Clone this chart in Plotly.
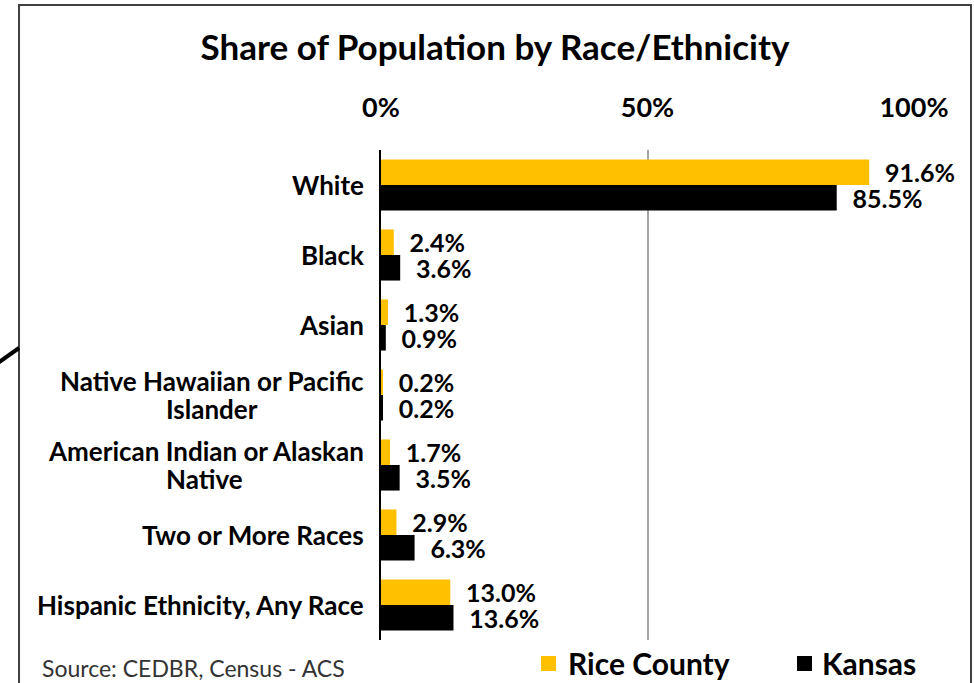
import plotly.graph_objects as go

categories = ["White", "Black", "Asian", "Native Hawaiian or Pacific<br>Islander",
              "American Indian or Alaskan<br>Native", "Two or More Races",
              "Hispanic Ethnicity, Any Race"]
rice_county = [91.6, 2.4, 1.3, 0.2, 1.7, 2.9, 13.0]
kansas = [85.5, 3.6, 0.9, 0.2, 3.5, 6.3, 13.6]
series_names = ["Rice County", "Kansas"]
tick_vals = [0, 50, 100]
tick_text = ["0%", "50%", "100%"]

FONT = "Lato"
GOLD = "#FFC000"
COLORS = [GOLD, "#000000"]

L, R, T, B = 381, 60, 150, 43
W, H = 974, 683
pw, ph = W - L - R, H - T - B
def px(x): return (x - L) / pw
def py(y): return (H - B - y) / ph

fig = go.Figure()
for name, vals, col in zip(series_names, [rice_county, kansas], COLORS):
    fig.add_trace(go.Bar(
        y=categories, x=vals, name=name, orientation="h",
        marker=dict(color=col, line=dict(width=0)),
        text=[f"\u00a0\u00a0<b>{v:.1f}%</b>" for v in vals], textposition="outside",
        textfont=dict(family=FONT, size=25, color="#000000"),
        constraintext="none", cliponaxis=False, showlegend=False,
    ))

# category labels (wrapped labels: lines 28px apart, centred under each other)
wrap_centre_px = {3: 212, 4: 204}
for k, c in enumerate(categories):
    lines = c.split("<br>")
    n = len(lines)
    for i, ln in enumerate(lines):
        shift = (n - 1) * 14 - i * 28
        if i == 0:
            anchor, xs = "right", -15
        else:
            anchor, xs = "center", wrap_centre_px[k] - L
        fig.add_annotation(x=0, xref="paper", y=c, yref="y", text=f"<b>{ln}</b>",
                           xanchor=anchor, xshift=xs, yshift=shift,
                           align="center", showarrow=False,
                           font=dict(family=FONT, size=26, color="#000000"))

fig.add_annotation(x=px(40), xref="paper", y=py(668), yref="paper", xanchor="left",
                   yanchor="middle", text="Source: CEDBR, Census - ACS", showarrow=False,
                   font=dict(family=FONT, size=23, color="#333333"))

# legend drawn manually
leg_x = [541, 797]
leg_text_x = [566, 820]
for name, col, sx, tx in zip(series_names, COLORS, leg_x, leg_text_x):
    fig.add_shape(type="rect", xref="paper", yref="paper", x0=px(sx), x1=px(sx + 15),
                  y0=py(671), y1=py(656), fillcolor=col, line=dict(width=0))
    fig.add_annotation(x=px(tx), xref="paper", y=py(663), yref="paper", xanchor="left",
                       yanchor="middle", text=f"<b>{name}</b>", showarrow=False,
                       font=dict(family=FONT, size=30, color="#000000"))

fig.add_shape(type="rect", xref="paper", yref="paper", x0=px(19), x1=px(971),
              y0=py(700), y1=py(5), line=dict(color="#404040", width=2))
fig.add_shape(type="line", xref="paper", yref="paper", x0=px(-2), y0=py(363),
              x1=px(19), y1=py(348), line=dict(color="#000000", width=4))

fig.update_layout(
    width=W, height=H, margin=dict(l=L, r=R, t=T, b=B, autoexpand=False),
    paper_bgcolor="white", plot_bgcolor="white",
    barmode="group", bargap=0.27, bargroupgap=0,
    title=dict(text="<b>Share of Population by Race/Ethnicity</b>", xref="container",
               x=495 / W, xanchor="center", yref="container",
               y=1 - 48 / H, yanchor="middle", font=dict(family=FONT, size=35, color="#000000")),
    font=dict(family=FONT, color="#000000"),
    showlegend=False,
)
fig.update_xaxes(side="top", range=[0, 100], tickvals=tick_vals,
                 ticktext=[f"<b>{t}</b>" for t in tick_text],
                 tickfont=dict(family=FONT, size=27, color="#000000"),
                 showgrid=True, gridcolor="#A6A6A6", gridwidth=2, zeroline=False,
                 ticks="", ticklabelstandoff=27, showline=False, fixedrange=True)
fig.update_yaxes(autorange="reversed", showticklabels=False, ticks="", showgrid=False,
                 showline=True, linecolor="#000000", linewidth=2, zeroline=False)

fig.write_html("out.html", config={"displayModeBar": False},
               post_script="document.body.style.margin='0';document.body.style.overflow='hidden';")
